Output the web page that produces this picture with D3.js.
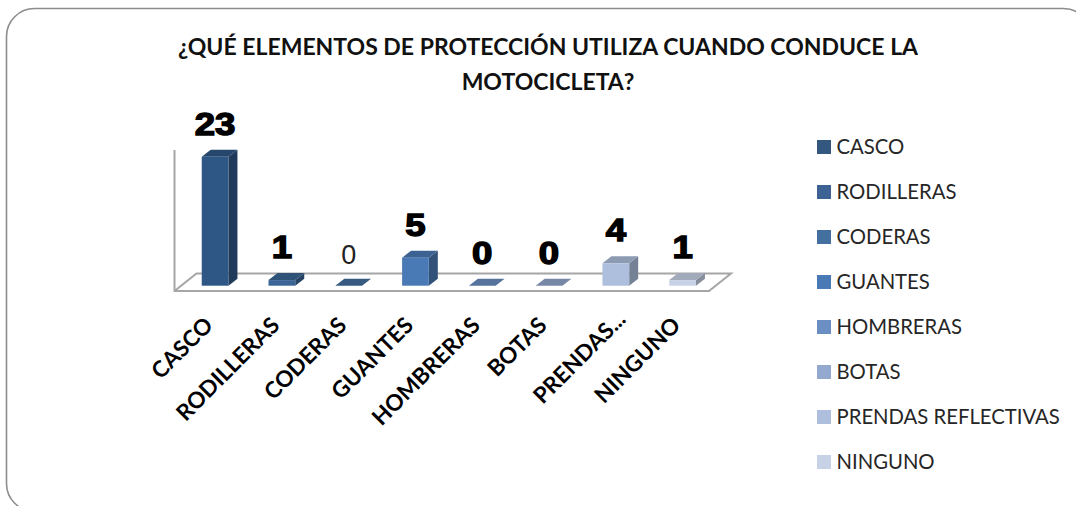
<!DOCTYPE html>
<html>
<head>
<meta charset="utf-8">
<script src="https://cdn.jsdelivr.net/npm/d3@7"></script>
<style>
  html, body { margin: 0; padding: 0; background: #fff; }
  svg { display: block; }
  text { font-family: Lato, "Open Sans", sans-serif; }
</style>
</head>
<body>
<div id="chart"></div>
<script>
// DATA
const categories = ["CASCO", "RODILLERAS", "CODERAS", "GUANTES", "HOMBRERAS", "BOTAS", "PRENDAS REFLECTIVAS", "NINGUNO"];
const tickLabels = ["CASCO", "RODILLERAS", "CODERAS", "GUANTES", "HOMBRERAS", "BOTAS", "PRENDAS...", "NINGUNO"];
const values = [23, 1, 0, 5, 0, 0, 4, 1];
const titleLines = ["¿QUÉ ELEMENTOS DE PROTECCIÓN UTILIZA CUANDO CONDUCE LA", "MOTOCICLETA?"];
const barColors = ["#2f5785", "#3a6596", "#44709f", "#4a7ab5", "#6b8fc3", "#93a9cf", "#adbfdc", "#c8d2e6"];
const legendColors = ["#34577f", "#3c6393", "#44709f", "#4a7ab5", "#6b8fc3", "#93a9cf", "#adbfdc", "#c8d2e6"];

const width = 1076, height = 506;
const depthX = 9, depthY = 7; // bar depth offset
const baseY = 285.7;

const svg = d3.select("#chart").append("svg")
  .attr("width", width)
  .attr("height", height);

// outer frame, runs off the right and bottom of the picture
svg.append("rect")
  .attr("x", 6.5).attr("y", 8.5)
  .attr("width", 1085).attr("height", 503)
  .attr("rx", 28).attr("ry", 28)
  .attr("fill", "#fff")
  .attr("stroke", "#8c8c8c")
  .attr("stroke-width", 1.6);

// title
svg.append("g").selectAll("text").data(titleLines).join("text")
  .attr("x", 548)
  .attr("y", (d, i) => 55 + i * 35)
  .attr("text-anchor", "middle")
  .attr("font-size", 23)
  .attr("font-weight", 700)
  .attr("fill", "#111")
  .text(d => d);

// scales
const xScale = d3.scaleBand()
  .domain(categories)
  .range([181.7, 716])
  .paddingInner(0.6)
  .paddingOuter(0.3);

const yScale = d3.scaleLinear()
  .domain([0, 23])
  .range([baseY, 156.7]);

// floor + wall
const floorPath = d3.line();
svg.append("path")
  .attr("d", floorPath([[174.5, 150], [174.5, 291], [709, 291], [731, 273.5], [196.5, 273.5], [174.5, 291]]))
  .attr("fill", "none")
  .attr("stroke", "#a6a6a6")
  .attr("stroke-width", 2);

// bars
const bars = svg.append("g").selectAll("g")
  .data(categories.map((c, i) => ({ name: c, value: values[i], color: barColors[i] })))
  .join("g");

const barW = xScale.bandwidth();

bars.append("path") // side
  .attr("d", d => {
    const x = xScale(d.name) + barW, y0 = baseY, y1 = yScale(d.value);
    return floorPath([[x, y0], [x + depthX, y0 - depthY], [x + depthX, y1 - depthY], [x, y1]]) + "Z";
  })
  .attr("fill", d => d3.color(d.color).darker(1.1));

bars.append("path") // top
  .attr("d", d => {
    const x = xScale(d.name), y1 = yScale(d.value);
    return floorPath([[x, y1], [x + depthX, y1 - depthY], [x + barW + depthX, y1 - depthY], [x + barW, y1]]) + "Z";
  })
  .attr("fill", d => d3.color(d.color).darker(0.6));

bars.append("rect") // front
  .attr("x", d => xScale(d.name))
  .attr("y", d => yScale(d.value))
  .attr("width", barW)
  .attr("height", d => baseY - yScale(d.value))
  .attr("fill", d => d.color);

// value labels, the bold ones are stretched wide in the original
svg.append("g").selectAll("text")
  .data(categories.map((c, i) => ({ name: c, value: values[i] })))
  .join("text")
  .attr("transform", d => {
    const sx = d.name === "CODERAS" ? 1 : 1.18;
    return `translate(${xScale(d.name) + barW / 2}, ${yScale(d.value) - depthY - 15}) scale(${sx}, 1)`;
  })
  .attr("text-anchor", "middle")
  .style("font-family", "'Liberation Sans', Arial, sans-serif")
  .attr("font-size", d => d.name === "CODERAS" ? 27 : 31)
  .attr("font-weight", d => d.name === "CODERAS" ? 400 : 700)
  .attr("fill", d => d.name === "CODERAS" ? "#222" : "#000")
  .attr("stroke", d => d.name === "CODERAS" ? "none" : "#000")
  .attr("stroke-width", 1.4)
  .text(d => d.value);

// category axis
const xAxis = d3.axisBottom(xScale)
  .tickSize(0)
  .tickFormat((d, i) => tickLabels[i]);

const xAxisG = svg.append("g")
  .attr("transform", "translate(-26, 319)")
  .call(xAxis);
xAxisG.select(".domain").remove();
xAxisG.selectAll("text")
  .attr("transform", d => d === "PRENDAS REFLECTIVAS" ? "translate(12, -6) rotate(-45)" : "rotate(-45)")
  .attr("text-anchor", "end")
  .attr("dx", "0.55em")
  .attr("dy", "0.9em")
  .attr("font-size", 22.5)
  .attr("font-weight", 700)
  .attr("fill", "#000")
  .style("font-family", "Lato, sans-serif");

// legend
const legendY = d3.scalePoint()
  .domain(categories)
  .range([147, 462]);

const legend = svg.append("g").selectAll("g").data(categories).join("g")
  .attr("transform", d => `translate(817, ${legendY(d)})`);

legend.append("rect")
  .attr("x", 0).attr("y", -7)
  .attr("width", 14).attr("height", 14)
  .attr("fill", (d, i) => legendColors[i]);

legend.append("text")
  .attr("x", 19.5)
  .attr("y", 7)
  .attr("font-size", 20.3)
  .attr("fill", "#262626")
  .text(d => d);
</script>
</body>
</html>
